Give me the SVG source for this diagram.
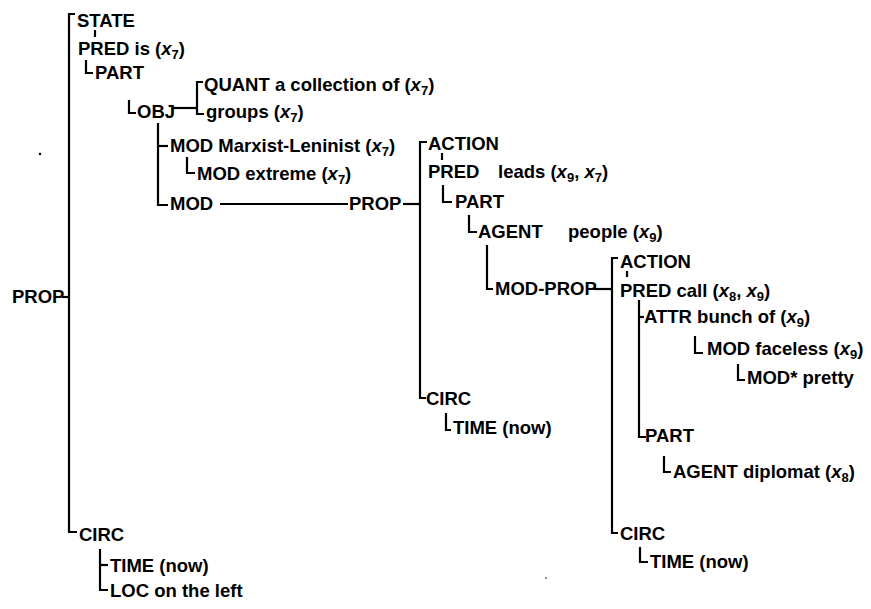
<svg xmlns="http://www.w3.org/2000/svg" width="871" height="609" viewBox="0 0 871 609">
<style>
.t{font-family:"Liberation Sans",Arial,sans-serif;font-size:18.5px;font-weight:bold;fill:#000}
.v{font-style:italic}
.s{font-size:13px}
.c{stroke:#000;stroke-width:2.2;fill:none}
</style>
<rect width="871" height="609" fill="#fff"/>
<g id="connectors" class="c">
<path d="M75,14 H69 V532 H77"/>
<path d="M62,297 H69"/>
<path d="M95,30 V37"/>
<path d="M86,60 V73 H93"/>
<path d="M129,100 V113 H136"/>
<path d="M203,82 H197 V114 H204"/>
<path d="M172,108 H197"/>
<path d="M158,123 V205 H168"/>
<path d="M158,146 H168"/>
<path d="M187,157 V173 H195"/>
<path d="M220,204 H348"/>
<path d="M403,204 H420"/>
<path d="M427,142 H420 V398 H426"/>
<path d="M442,153 V160"/>
<path d="M443,185 V202 H452"/>
<path d="M469,215 V232 H477"/>
<path d="M487,245 V289 H493"/>
<path d="M594,289 H612"/>
<path d="M618,258 H612 V533 H618"/>
<path d="M627,271 V277"/>
<path d="M639,300 V437 H646"/>
<path d="M639,317 H644"/>
<path d="M695,336 V353 H703"/>
<path d="M738,364 V380 H745"/>
<path d="M664,456 V472 H671"/>
<path d="M446,413 V430 H451"/>
<path d="M640,547 V562 H648"/>
<path d="M100,549 V590 H108"/>
<path d="M100,565 H108"/>
</g>
<g id="specks" fill="#000">
<circle cx="40" cy="154" r="1.2"/>
<circle cx="546" cy="578" r="0.8"/>
</g>
<g id="prop-root"><text class="t" x="12" y="303">PROP</text></g>
<g id="state"><text class="t" x="77" y="27">STATE</text></g>
<g id="pred-is"><text class="t" x="78" y="55">PRED is (<tspan class="v">x</tspan><tspan class="s" dy="4">7</tspan><tspan dy="-4">)</tspan></text></g>
<g id="part-1"><text class="t" x="95" y="79">PART</text></g>
<g id="quant"><text class="t" x="204" y="91">QUANT a collection of (<tspan class="v">x</tspan><tspan class="s" dy="4">7</tspan><tspan dy="-4">)</tspan></text></g>
<g id="obj"><text class="t" x="137" y="118">OBJ</text></g>
<g id="groups"><text class="t" x="206" y="118">groups (<tspan class="v">x</tspan><tspan class="s" dy="4">7</tspan><tspan dy="-4">)</tspan></text></g>
<g id="mod-marxist"><text class="t" x="170" y="152">MOD Marxist-Leninist (<tspan class="v">x</tspan><tspan class="s" dy="4">7</tspan><tspan dy="-4">)</tspan></text></g>
<g id="mod-extreme"><text class="t" x="197" y="180">MOD extreme (<tspan class="v">x</tspan><tspan class="s" dy="4">7</tspan><tspan dy="-4">)</tspan></text></g>
<g id="mod-3"><text class="t" x="170" y="210">MOD</text></g>
<g id="prop-2"><text class="t" x="349" y="210">PROP</text></g>
<g id="action-1"><text class="t" x="428" y="150">ACTION</text></g>
<g id="pred-leads"><text class="t" x="428" y="178">PRED<tspan x="498">leads (</tspan><tspan class="v">x</tspan><tspan class="s" dy="4">9</tspan><tspan dy="-4">, </tspan><tspan class="v">x</tspan><tspan class="s" dy="4">7</tspan><tspan dy="-4">)</tspan></text></g>
<g id="part-2"><text class="t" x="455" y="208">PART</text></g>
<g id="agent-people"><text class="t" x="478" y="238">AGENT<tspan x="568">people (</tspan><tspan class="v">x</tspan><tspan class="s" dy="4">9</tspan><tspan dy="-4">)</tspan></text></g>
<g id="mod-prop"><text class="t" x="495" y="295">MOD-PROP</text></g>
<g id="circ-2"><text class="t" x="426" y="405">CIRC</text></g>
<g id="time-2"><text class="t" x="453" y="434">TIME (now)</text></g>
<g id="action-2"><text class="t" x="620" y="268">ACTION</text></g>
<g id="pred-call"><text class="t" x="620" y="297">PRED call (<tspan class="v">x</tspan><tspan class="s" dy="4">8</tspan><tspan dy="-4">, </tspan><tspan class="v">x</tspan><tspan class="s" dy="4">9</tspan><tspan dy="-4">)</tspan></text></g>
<g id="attr"><text class="t" x="644" y="323">ATTR bunch of (<tspan class="v">x</tspan><tspan class="s" dy="4">9</tspan><tspan dy="-4">)</tspan></text></g>
<g id="mod-faceless"><text class="t" x="707" y="355">MOD faceless (<tspan class="v">x</tspan><tspan class="s" dy="4">9</tspan><tspan dy="-4">)</tspan></text></g>
<g id="mod-pretty"><text class="t" x="747" y="384">MOD* pretty</text></g>
<g id="part-3"><text class="t" x="645" y="442">PART</text></g>
<g id="agent-diplomat"><text class="t" x="673" y="478">AGENT diplomat (<tspan class="v">x</tspan><tspan class="s" dy="4">8</tspan><tspan dy="-4">)</tspan></text></g>
<g id="circ-3"><text class="t" x="620" y="540">CIRC</text></g>
<g id="time-3"><text class="t" x="650" y="568">TIME (now)</text></g>
<g id="circ-1"><text class="t" x="79" y="541">CIRC</text></g>
<g id="time-1"><text class="t" x="110" y="572">TIME (now)</text></g>
<g id="loc"><text class="t" x="110" y="597">LOC on the left</text></g>
</svg>
